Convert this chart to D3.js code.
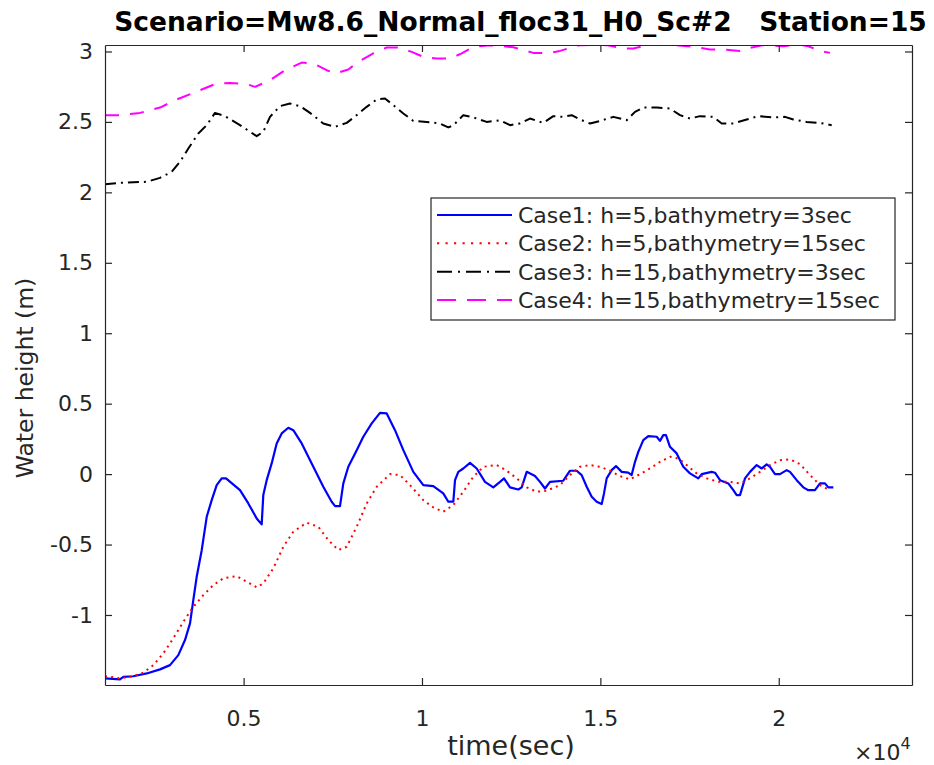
<!DOCTYPE html>
<html>
<head>
<meta charset="utf-8">
<script src="https://cdn.jsdelivr.net/npm/d3@7"></script>
<style>
  html, body { margin: 0; padding: 0; background: #fff; }
  svg { display: block; font-family: "DejaVu Sans", sans-serif; }
</style>
</head>
<body>
<svg id="chart" width="934" height="765"></svg>
<script>
// ---- Axis limits and ticks ----
const xLimits = [1115, 23735];
const yLimits = [-1.497, 3.046];
const xTickValues = [5000, 10000, 15000, 20000];
const xTickLabels = ["0.5", "1", "1.5", "2"];
const yTickValues = [-1, -0.5, 0, 0.5, 1, 1.5, 2, 2.5, 3];
const yTickLabels = ["-1", "-0.5", "0", "0.5", "1", "1.5", "2", "2.5", "3"];

// ---- Time series: [time (s), water height (m)] ----
const case1 = [[1115,-1.45],[1535,-1.457],[1628,-1.44],[1908,-1.435],[2284,-1.415],[2657,-1.386],[2937,-1.356],[3170,-1.285],[3357,-1.178],[3498,-1.06],[3590,-0.894],[3685,-0.729],[3826,-0.54],[3966,-0.303],[4106,-0.185],[4246,-0.078],[4386,-0.03],[4507,-0.03],[4899,-0.114],[5132,-0.208],[5367,-0.315],[5507,-0.357],[5552,-0.149],[5647,-0.043],[5787,0.076],[5927,0.218],[6068,0.289],[6253,0.329],[6393,0.312],[6629,0.218],[6954,0.052],[7234,-0.09],[7469,-0.196],[7565,-0.227],[7702,-0.227],[7795,-0.066],[7935,0.052],[8170,0.17],[8355,0.265],[8591,0.36],[8823,0.435],[9011,0.431],[9244,0.312],[9477,0.17],[9757,0.016],[10037,-0.078],[10317,-0.085],[10597,-0.137],[10738,-0.196],[10878,-0.196],[10926,-0.043],[11018,0.016],[11158,0.04],[11346,0.08],[11534,0.04],[11766,-0.055],[11999,-0.094],[12187,-0.055],[12299,-0.03],[12467,-0.094],[12700,-0.109],[12795,-0.094],[12935,0.016],[13168,-0.014],[13308,-0.055],[13448,-0.102],[13588,-0.055],[13961,-0.047],[14149,0.024],[14336,0.024],[14476,-0.007],[14617,-0.09],[14757,-0.161],[14897,-0.196],[15037,-0.213],[15102,-0.137],[15177,-0.03],[15317,0.028],[15438,0.057],[15598,0.016],[15783,0.01],[15876,-0.007],[15971,0.087],[16063,0.158],[16203,0.241],[16344,0.27],[16579,0.265],[16671,0.236],[16764,0.277],[16839,0.277],[16951,0.194],[17139,0.147],[17324,0.052],[17512,0.005],[17745,-0.03],[17840,0],[18120,0.016],[18213,0.01],[18355,-0.043],[18586,-0.066],[18727,-0.114],[18821,-0.149],[18914,-0.149],[19054,-0.03],[19194,0.016],[19382,0.064],[19522,0.04],[19662,0.069],[19755,0.052],[19895,0],[20035,0],[20223,0.028],[20316,0.016],[20503,-0.043],[20688,-0.094],[20828,-0.114],[21016,-0.114],[21156,-0.066],[21296,-0.066],[21389,-0.094],[21529,-0.094]];

const case2 = [[1115,-1.434],[1535,-1.45],[1908,-1.434],[2188,-1.41],[2469,-1.356],[2749,-1.273],[3029,-1.166],[3310,-1.048],[3590,-0.942],[3870,-0.859],[4151,-0.788],[4431,-0.74],[4807,-0.724],[5087,-0.764],[5367,-0.804],[5552,-0.776],[5832,-0.669],[6113,-0.516],[6393,-0.409],[6769,-0.345],[7094,-0.374],[7374,-0.468],[7654,-0.539],[7890,-0.516],[8170,-0.374],[8450,-0.208],[8731,-0.09],[9104,0],[9384,-0.007],[9664,-0.078],[10037,-0.185],[10317,-0.236],[10597,-0.267],[10878,-0.22],[11158,-0.125],[11438,-0.019],[11719,0.052],[12094,0.064],[12375,0.024],[12655,-0.03],[12935,-0.094],[13216,-0.125],[13496,-0.118],[13869,-0.078],[14149,-0.007],[14429,0.052],[14710,0.064],[14990,0.052],[15270,0.024],[15551,-0.014],[15831,-0.038],[16111,0],[16392,0.04],[16672,0.087],[16952,0.123],[17184,0.111],[17420,0.064],[17700,0.005],[17981,-0.03],[18306,-0.055],[18634,-0.055],[18914,-0.066],[19194,-0.03],[19475,0.016],[19755,0.064],[20035,0.099],[20316,0.104],[20596,0.071],[20876,-0.007],[21156,-0.078],[21389,-0.109]];

const case3 = [[1115,2.058],[1535,2.068],[2284,2.075],[2657,2.103],[2985,2.146],[3217,2.217],[3450,2.311],[3730,2.418],[3966,2.477],[4198,2.564],[4479,2.541],[4899,2.477],[5367,2.399],[5552,2.43],[5740,2.536],[6020,2.612],[6300,2.631],[6580,2.612],[6861,2.564],[7234,2.489],[7562,2.465],[7890,2.493],[8170,2.548],[8450,2.607],[8731,2.659],[8963,2.666],[9196,2.619],[9477,2.56],[9757,2.507],[10131,2.5],[10504,2.489],[10737,2.461],[10878,2.475],[11158,2.548],[11438,2.532],[11814,2.5],[12187,2.512],[12467,2.477],[12747,2.489],[13027,2.524],[13400,2.493],[13681,2.541],[13961,2.536],[14196,2.548],[14429,2.517],[14710,2.489],[14990,2.507],[15363,2.536],[15738,2.512],[15971,2.571],[16203,2.602],[16579,2.602],[16952,2.595],[17232,2.548],[17512,2.524],[17793,2.541],[18166,2.536],[18401,2.489],[18727,2.489],[19102,2.517],[19427,2.541],[19847,2.532],[20175,2.536],[20408,2.517],[20783,2.5],[21156,2.493],[21484,2.477]];

const case4 = [[1115,2.548],[1535,2.548],[2096,2.564],[2657,2.602],[3125,2.659],[3778,2.725],[4246,2.773],[4619,2.777],[5087,2.768],[5320,2.749],[5740,2.796],[6160,2.867],[6629,2.921],[6954,2.915],[7329,2.867],[7565,2.844],[7935,2.872],[8215,2.926],[8635,2.986],[9011,3.028],[9336,3.028],[9711,2.997],[10037,2.962],[10412,2.95],[10785,2.95],[11113,2.986],[11438,3.033],[11906,3.045],[12280,3.037],[12560,3.03],[12935,3.004],[13120,2.99],[13588,2.99],[13869,3.004],[14242,3.033],[14429,3.045],[14802,3.046],[15178,3.045],[15643,3.021],[15924,3.021],[16299,3.045],[16672,3.046],[17139,3.045],[17605,3.033],[18073,3.014],[18446,3.014],[18914,3.004],[19102,3.021],[19568,3.045],[20128,3.037],[20548,3.05],[20828,3.037],[21156,3.004],[21436,2.99]];

const seriesLabels = [
  "Case1: h=5,bathymetry=3sec",
  "Case2: h=5,bathymetry=15sec",
  "Case3: h=15,bathymetry=3sec",
  "Case4: h=15,bathymetry=15sec"
];
const titleText = "Scenario=Mw8.6_Normal_floc31_H0_Sc#2   Station=15";

// ---- Styles for each series ----
const styles = [
  { color: "#0000ff", width: 2.2, dash: null,          legendDash: null },
  { color: "#ff0000", width: 2.0, dash: "2,4.2",       legendDash: "2.2,6.3" },
  { color: "#000000", width: 2.0, dash: "11,5,2,5",    legendDash: "15,6,2,6" },
  { color: "#ff00ff", width: 2.0, dash: "14,11",       legendDash: "19,11" }
];
const seriesData = [case1, case2, case3, case4];

const axisColor = "#262626";
const box = { left: 105, right: 912, top: 45, bottom: 685 };

const svg = d3.select("#chart");
svg.append("rect").attr("width", 934).attr("height", 765).attr("fill", "#fff");

const x = d3.scaleLinear().domain(xLimits).range([box.left, box.right]);
const y = d3.scaleLinear().domain(yLimits).range([box.bottom, box.top]);

svg.append("defs").append("clipPath").attr("id", "plotClip")
  .append("rect")
  .attr("x", box.left).attr("y", box.top)
  .attr("width", box.right - box.left).attr("height", box.bottom - box.top);

// ---- Series lines ----
const line = d3.line().x(d => x(d[0])).y(d => y(d[1]));
const linesG = svg.append("g").attr("clip-path", "url(#plotClip)");
seriesData.forEach((data, i) => {
  const s = styles[i];
  linesG.append("path")
    .datum(data)
    .attr("d", line)
    .attr("fill", "none")
    .attr("stroke", s.color)
    .attr("stroke-width", s.width)
    .attr("stroke-linejoin", "round")
    .attr("stroke-dasharray", s.dash);
});

// ---- Axes (box with inward ticks on all four sides) ----
function styleAxis(g) {
  g.selectAll("path.domain").attr("stroke", axisColor).attr("stroke-width", 1.2);
  g.selectAll(".tick line").attr("stroke", axisColor).attr("stroke-width", 1.2);
  g.selectAll(".tick text").attr("fill", axisColor)
    .style("font-family", "'DejaVu Sans', sans-serif").style("font-size", "22px");
}

svg.append("g")
  .attr("transform", `translate(0,${box.bottom})`)
  .call(d3.axisBottom(x).tickValues(xTickValues)
    .tickFormat((d, i) => xTickLabels[i])
    .tickSizeInner(-7).tickSizeOuter(0).tickPadding(25))
  .call(styleAxis);

svg.append("g")
  .attr("transform", `translate(0,${box.top})`)
  .call(d3.axisTop(x).tickValues(xTickValues).tickFormat("")
    .tickSizeInner(-7).tickSizeOuter(0))
  .call(styleAxis);

svg.append("g")
  .attr("transform", `translate(${box.left},0)`)
  .call(d3.axisLeft(y).tickValues(yTickValues)
    .tickFormat((d, i) => yTickLabels[i])
    .tickSizeInner(-7).tickSizeOuter(0).tickPadding(12))
  .call(styleAxis);

svg.append("g")
  .attr("transform", `translate(${box.right},0)`)
  .call(d3.axisRight(y).tickValues(yTickValues).tickFormat("")
    .tickSizeInner(-7).tickSizeOuter(0))
  .call(styleAxis);

// ---- Axis labels ----
svg.append("text")
  .attr("x", 511)
  .attr("y", 755)
  .attr("text-anchor", "middle")
  .attr("fill", axisColor)
  .style("font-size", "27px")
  .text("time(sec)");

svg.append("text")
  .attr("transform", `translate(33,378) rotate(-90)`)
  .attr("text-anchor", "middle")
  .attr("fill", axisColor)
  .style("font-size", "23.5px")
  .text("Water height (m)");

// Exponent marker for the x axis
const expo = svg.append("text")
  .attr("x", 854).attr("y", 760)
  .attr("fill", axisColor)
  .style("font-size", "22px");
expo.append("tspan").text("\u00d710");
expo.append("tspan").attr("dy", -11).style("font-size", "16px").text("4");

// ---- Title ----
svg.append("text")
  .attr("x", 520.5).attr("y", 31)
  .attr("text-anchor", "middle")
  .attr("fill", "#000")
  .attr("xml:space", "preserve")
  .style("white-space", "pre")
  .style("font-size", "26.5px")
  .style("font-weight", "bold")
  .text(titleText);

// ---- Legend ----
const legend = svg.append("g");
legend.append("rect")
  .attr("x", 431).attr("y", 198)
  .attr("width", 464).attr("height", 122)
  .attr("fill", "#fff")
  .attr("stroke", axisColor)
  .attr("stroke-width", 1.2);

const rowY = d3.scalePoint().domain(d3.range(seriesLabels.length)).range([215, 300]);
seriesLabels.forEach((label, i) => {
  const s = styles[i];
  const yy = rowY(i);
  legend.append("line")
    .attr("x1", 437).attr("x2", 512)
    .attr("y1", yy).attr("y2", yy)
    .attr("stroke", s.color)
    .attr("stroke-width", s.width)
    .attr("stroke-dasharray", s.legendDash);
  legend.append("text")
    .attr("x", 518).attr("y", yy + 8)
    .attr("fill", axisColor)
    .style("font-size", "22px")
    .text(label);
});
</script>
</body>
</html>
